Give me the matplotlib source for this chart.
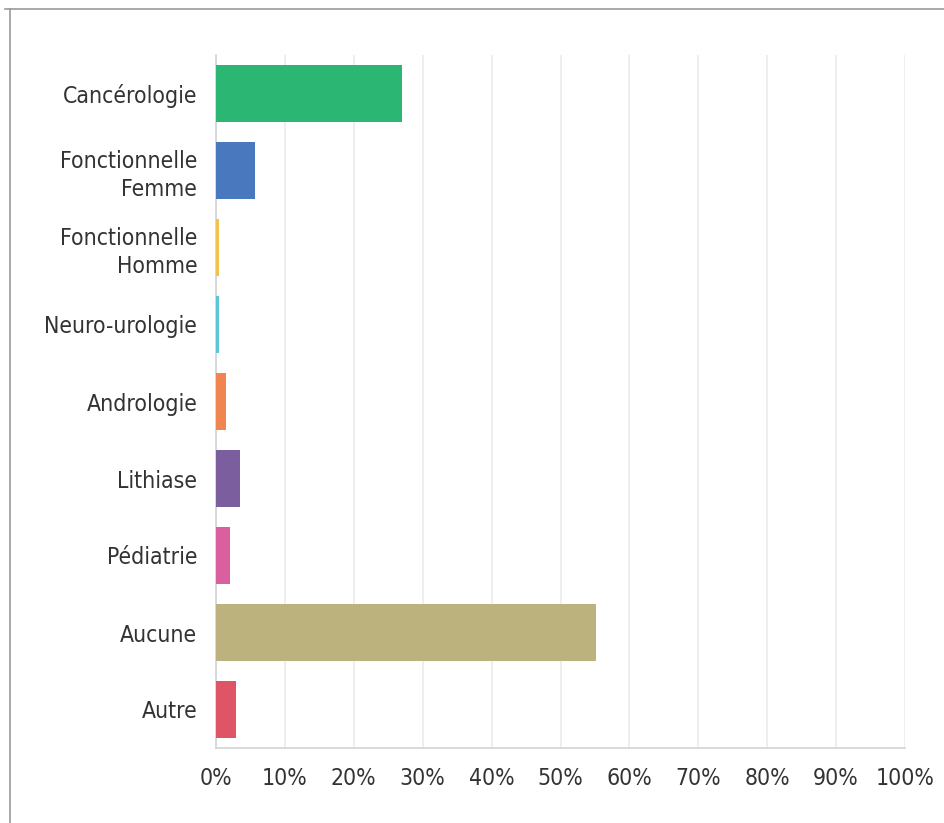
import matplotlib
matplotlib.use("Agg")
import matplotlib.pyplot as plt
from matplotlib.lines import Line2D

categories = ["Cancérologie", "Fonctionnelle\nFemme", "Fonctionnelle\nHomme",
              "Neuro-urologie", "Andrologie", "Lithiase", "Pédiatrie",
              "Aucune", "Autre"]
values = [27.0, 5.7, 0.5, 0.5, 1.4, 3.5, 2.0, 55.2, 2.9]
colors = ["#2bb673", "#4a78be", "#f2c14e", "#5cc6d6", "#f0854f",
          "#7b5e9e", "#d95f9f", "#bcb27d", "#e05467"]
tick_values = list(range(0, 101, 10))
tick_labels = [f"{v}%" for v in tick_values]

plt.rcParams["font.family"] = ["DejaVu Sans"]
plt.rcParams["font.stretch"] = "condensed"

W, H = 944, 823
fig = plt.figure(figsize=(W / 100, H / 100), dpi=100)
ax = fig.add_axes([216 / W, 1 - 748 / H, (905 - 216) / W, (748 - 55) / H])

y = list(range(len(categories)))
ax.barh(y, values, height=0.73, color=colors, zorder=3)
ax.set_ylim(len(categories) - 0.5, -0.5)
ax.set_xlim(0, 100)
ax.set_xticks(tick_values)
ax.set_xticklabels(tick_labels)
ax.set_yticks(y)
ax.set_yticklabels(categories, linespacing=1.3)

ax.grid(axis="x", color="#ebebeb", linewidth=1.2, zorder=0)
for s in ("top", "right"):
    ax.spines[s].set_visible(False)
for s in ("left", "bottom"):
    ax.spines[s].set_color("#cfd4d6")
    ax.spines[s].set_linewidth(1.2)
ax.tick_params(axis="both", length=0, labelsize=16.5, colors="#333333")
ax.tick_params(axis="x", pad=13.5)
ax.tick_params(axis="y", pad=13.5)

# frame lines along the top and left of the figure
fig.add_artist(Line2D([5 / W, 1], [1 - 9 / H, 1 - 9 / H], color="#9a9a9a",
                      linewidth=1.2, transform=fig.transFigure))
fig.add_artist(Line2D([9.5 / W, 9.5 / W], [1 - 9 / H, 0], color="#9a9a9a",
                      linewidth=1.2, transform=fig.transFigure))

fig.savefig("out.png", dpi=100, facecolor="white")
